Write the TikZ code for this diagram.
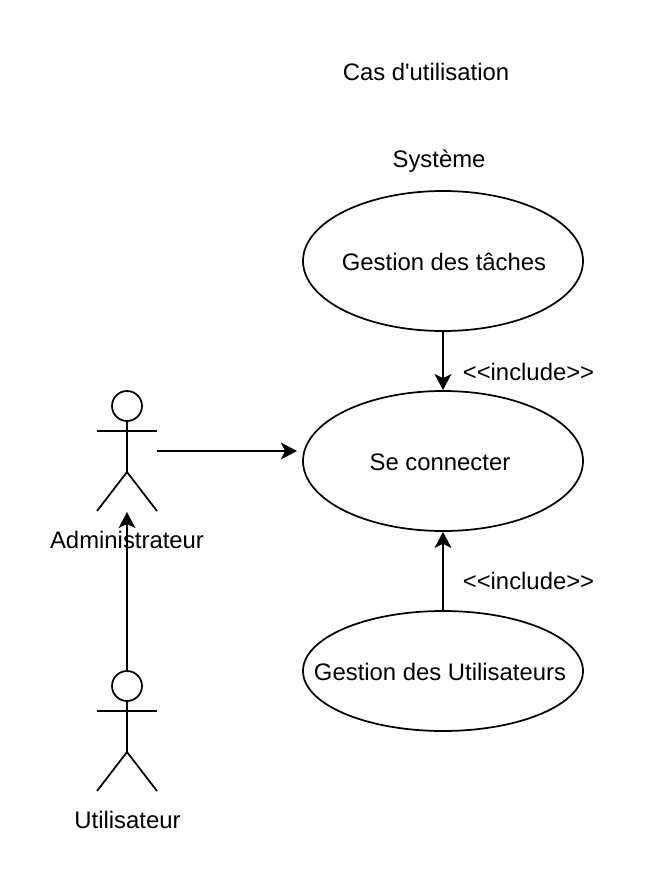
\documentclass[tikz,border=0pt]{standalone}
\usepackage{fontspec}
\newfontfamily\plainsf{Liberation Sans}
\usetikzlibrary{arrows.meta,shapes.geometric}
\tikzset{x=0.75pt,y=-0.75pt,
 uc/.style={draw,ellipse,line width=1.3pt,minimum width=210pt,minimum height=105pt,inner sep=0pt},
 lbl/.style={inner sep=0pt,font=\plainsf\fontsize{17.9pt}{20pt}\selectfont},
 lk/.style={line width=1.5pt,-{Stealth[length=12pt,width=12.5pt,inset=3pt]}},
 ln/.style={line width=1.3pt},
 hd/.style={draw,circle,line width=1.3pt,minimum size=22.5pt,inner sep=0pt}}
\begin{document}
\begin{tikzpicture}
\useasboundingbox (0,0) rectangle (660,882);
\node[lbl] (title) at (426,72) {Cas d'utilisation};
\node[lbl] (sys) at (439,161.5) {Système};
\node[uc] (g) at (443,261) {};
\node[lbl] (gt) at (444,262) {Gestion des tâches};
\node[uc] (c) at (443,461) {};
\node[lbl] (ct) at (440,462) {Se connecter};
\node[uc,minimum height=90pt] (u) at (443,671) {};
\node[lbl] (ut) at (440,672) {Gestion des Utilisateurs};
\node[lbl] (i1) at (528.5,372) {<{}<include>{}>};
\node[lbl] (i2) at (528.5,581) {<{}<include>{}>};
% Administrateur
\node[hd] (ah) at (127,406) {};
\coordinate (ab) at (127,472);
\draw[ln] (ah.south) -- (ab);
\draw[ln] (97,431) -- (157,431);
\draw[ln] (97,511) -- (ab) -- (157,511);
\node[lbl] (al) at (127,540) {Administrateur};
% Utilisateur
\node[hd] (uh) at (127,686) {};
\coordinate (ub) at (127,752);
\draw[ln] (uh.south) -- (ub);
\draw[ln] (97,711) -- (157,711);
\draw[ln] (97,791) -- (ub) -- (157,791);
\node[lbl] (ul) at (127.5,820) {Utilisateur};
\coordinate (as) at (157,451);
\coordinate (at) at (297,451);
\coordinate (uht) at (127,512);
\draw[lk] (g) -- (c);
\draw[lk] (u) -- (c);
\draw[lk] (as) -- (at);
\draw[lk] (uh.north) -- (uht);
\end{tikzpicture}
\end{document}
